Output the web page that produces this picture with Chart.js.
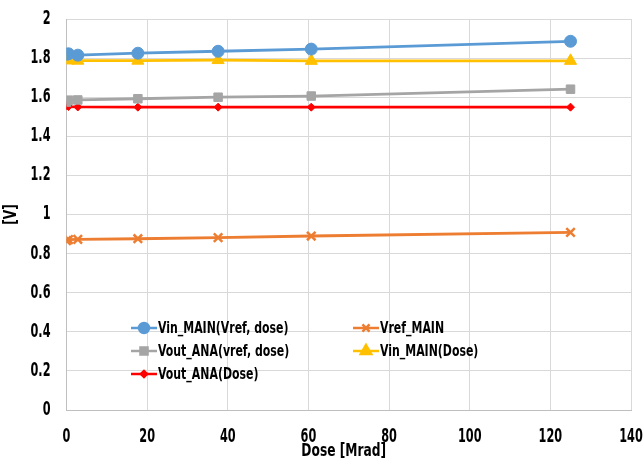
<!DOCTYPE html>
<html>
<head>
<meta charset="utf-8">
<script src="https://cdn.jsdelivr.net/npm/chart.js@4"></script>
<style>
  html, body { margin: 0; padding: 0; background: #fff; }
  #wrap { width: 644px; height: 465px; }
</style>
</head>
<body>
<div id="wrap"><canvas id="chartCanvas" width="644" height="465"></canvas></div>
<script>
// --- data ---
const dose = [0, 0.5, 2.8, 17.7, 37.6, 60.7, 125];
const vinMainVref = [1.820, 1.822, 1.815, 1.825, 1.835, 1.846, 1.886];
const vrefMain    = [0.866, 0.872, 0.873, 0.876, 0.882, 0.890, 0.909];
const voutAnaVref = [1.575, 1.585, 1.586, 1.592, 1.600, 1.606, 1.641];
const vinMainDose = [1.790, 1.788, 1.787, 1.787, 1.790, 1.786, 1.786];
const voutAnaDose = [1.556, 1.552, 1.550, 1.549, 1.549, 1.549, 1.549];
const yTicks = [0, 0.2, 0.4, 0.6, 0.8, 1, 1.2, 1.4, 1.6, 1.8, 2];
const xTicks = [0, 20, 40, 60, 80, 100, 120, 140];
const xTitle = "Dose [Mrad]";
const yTitle = "[V]";

const FONT = "'DejaVu Sans Condensed', 'Liberation Sans', sans-serif";

const toPoints = vals => vals.map((v, i) => ({ x: dose[i], y: v }));

function series(label, vals, color, style, radius) {
  return {
    label,
    data: toPoints(vals),
    borderColor: color,
    backgroundColor: color,
    pointStyle: style,
    pointRadius: radius,
    pointBorderWidth: style === "crossRot" ? 2.5 : 1,
    borderWidth: 2.8,
    showLine: true,
    tension: 0
  };
}

const datasets = [
  series("Vin_MAIN(Vref, dose)", vinMainVref, "#5B9BD5", "circle", 6),
  series("Vref_MAIN", vrefMain, "#ED7D31", "crossRot", 6),
  series("Vout_ANA(vref, dose)", voutAnaVref, "#A5A5A5", "rect", 6),
  series("Vin_MAIN(Dose)", vinMainDose, "#FFC000", "triangle", 7),
  series("Vout_ANA(Dose)", voutAnaDose, "#FF0000", "rectRot", 4)
];

// the original uses a tall, narrow bold font; squeeze text horizontally
function narrowText(ctx, text, x, y, size, sx, align, rot) {
  ctx.save();
  ctx.translate(x, y);
  if (rot) ctx.rotate(rot);
  ctx.scale(sx, 1);
  ctx.font = "bold " + size + "px " + FONT;
  ctx.textAlign = align;
  ctx.textBaseline = "middle";
  ctx.fillStyle = "#000";
  ctx.fillText(text, 0, 0);
  ctx.restore();
}

// tick labels and axis titles, placed with the chart's own scales
const axisText = {
  id: "axisText",
  afterDraw(chart) {
    const ctx = chart.ctx;
    const { x, y } = chart.scales;
    const area = chart.chartArea;
    xTicks.forEach(v => narrowText(ctx, String(v), x.getPixelForValue(v), area.bottom + 27, 19, 0.66, "center"));
    yTicks.forEach(v => narrowText(ctx, String(v), area.left - 16, y.getPixelForValue(v), 19, 0.66, "right"));
    narrowText(ctx, xTitle, (area.left + area.right) / 2 - 5, area.bottom + 42, 17, 0.8, "center");
    narrowText(ctx, yTitle, 12, (area.top + area.bottom) / 2, 17, 0.8, "center", -Math.PI / 2);
  }
};

// legend drawn inside the plot area, two columns like the original
const insideLegend = {
  id: "insideLegend",
  afterDraw(chart) {
    const ctx = chart.ctx;
    const pos = [[131, 328], [353, 328], [131, 351], [353, 351], [131, 374]];
    chart.data.datasets.forEach((ds, i) => {
      const [x, y] = pos[i];
      ctx.save();
      ctx.strokeStyle = ds.borderColor;
      ctx.fillStyle = ds.backgroundColor;
      ctx.lineWidth = 2.5;
      ctx.beginPath();
      ctx.moveTo(x, y);
      ctx.lineTo(x + 26, y);
      ctx.stroke();
      Chart.helpers.drawPoint(ctx, {
        pointStyle: ds.pointStyle,
        radius: ds.pointRadius - 1,
        borderWidth: ds.pointBorderWidth
      }, x + 13, y);
      ctx.restore();
      narrowText(ctx, ds.label, x + 27, y + 1, 16, 0.76, "left");
    });
  }
};

const canvas = document.getElementById("chartCanvas");
new Chart(canvas, {
  type: "scatter",
  data: { datasets },
  plugins: [axisText, insideLegend],
  options: {
    responsive: false,
    animation: false,
    layout: { padding: { top: 19, right: 13, left: 4, bottom: 0 } },
    plugins: {
      legend: { display: false },
      tooltip: { enabled: false }
    },
    scales: {
      x: {
        type: "linear",
        min: 0, max: 140,
        afterBuildTicks: s => { s.ticks = xTicks.map(v => ({ value: v })); },
        afterFit: s => { s.height = 55; s.paddingLeft = 0; s.paddingRight = 0; },
        grid: { color: "#d9d9d9", lineWidth: 1, drawTicks: false },
        border: { color: "#bfbfbf" },
        ticks: { display: false }
      },
      y: {
        min: 0, max: 2,
        afterBuildTicks: s => { s.ticks = yTicks.map(v => ({ value: v })); },
        afterFit: s => { s.width = 62.5; s.paddingTop = 0; s.paddingBottom = 0; },
        grid: { color: "#d9d9d9", lineWidth: 1, drawTicks: false },
        border: { color: "#bfbfbf" },
        ticks: { display: false }
      }
    }
  }
});
</script>
</body>
</html>
